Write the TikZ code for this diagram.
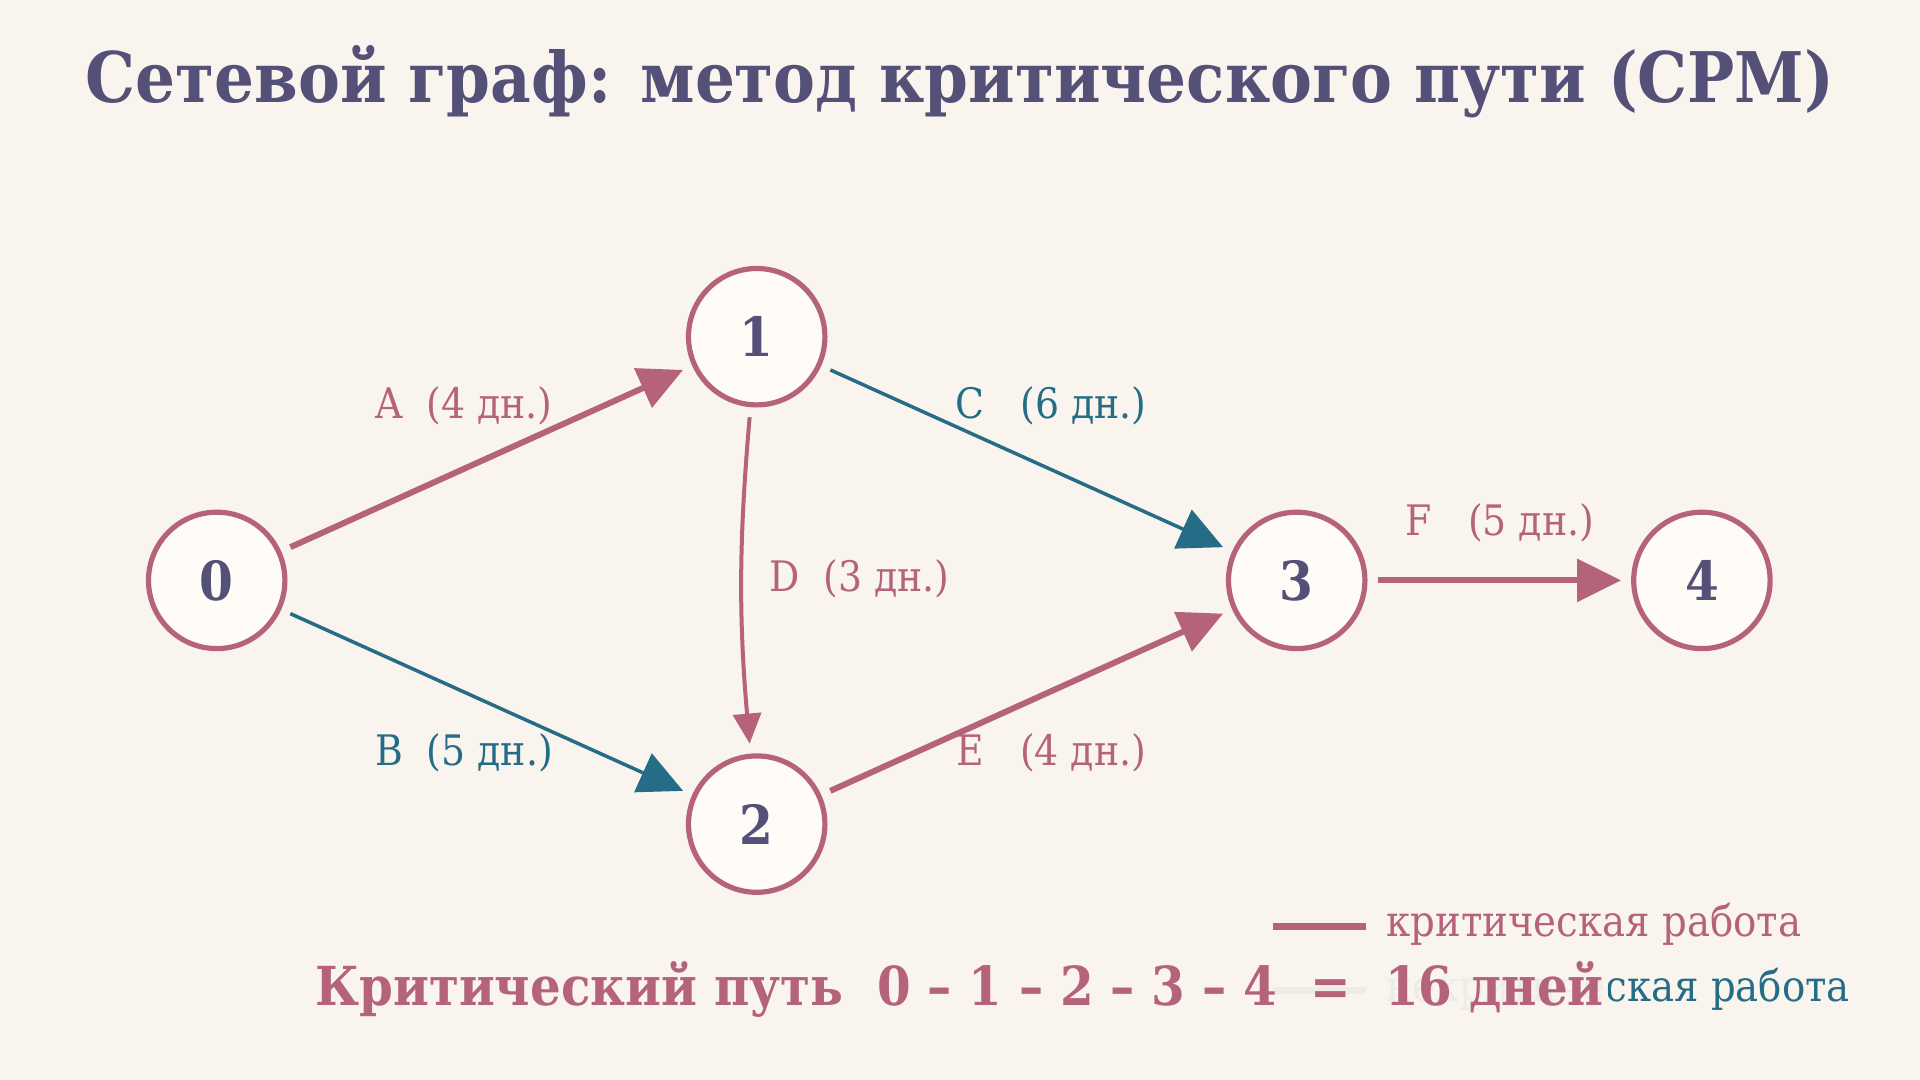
\documentclass[tikz,border=0pt]{standalone}
\usepackage{fontspec}
\setmainfont{DejaVu Serif Condensed}
\definecolor{bgColor}{HTML}{FAF4EE}
\definecolor{eventFillColor}{HTML}{FFFBF7}
\definecolor{criticalColor}{HTML}{B5637A}
\definecolor{normalColor}{HTML}{256C86}
\definecolor{titleColor}{HTML}{545078}
\usetikzlibrary{arrows.meta, positioning}
\tikzset{
    node distance = 121.85pt and 270pt,
    eventNode/.style = {circle, draw=criticalColor, line width=2.6pt, fill=eventFillColor, minimum size=68.2pt, inner sep=0pt, text=titleColor, font=\fontsize{27}{32}\selectfont\bfseries},
    labelNode/.style = {anchor=base, font=\fontsize{21}{25}\selectfont},
    criticalLabel/.style = {labelNode, text=criticalColor},
    normalLabel/.style = {labelNode, text=normalColor},
    legendText/.style = {anchor=base west, inner xsep=0pt, font=\fontsize{21.5}{26}\selectfont},
    legendLine/.style = {line width=3.5pt},
    defaultPath/.style = {draw, shorten <=5pt, shorten >=5pt},
    criticalPath/.style = {defaultPath, color=criticalColor, line width=3pt, -{Triangle[length=22pt, width=21pt]}},
    normalPath/.style = {defaultPath, color=normalColor, line width=1.75pt, -{Triangle[length=22pt, width=21pt]}},
    slimPath/.style = {defaultPath, color=criticalColor, line width=2pt, -{Triangle[length=15pt, width=14pt]}}
}
\begin{document}
\begin{tikzpicture}[x=0.5pt, y=-0.5pt, on grid]
            \fill[bgColor] (0,0) rectangle (1920,1080);
            \useasboundingbox (0,0) rectangle (1920,1080);
            % title
            \node(title)[anchor=base, text=titleColor, font=\fontsize{34.9}{42}\selectfont\bfseries] at (960,102.7) {Сетевой граф: метод критического пути (CPM)};
            % events
            \coordinate(start) at (216.7,580.4);
            \node(n0)[eventNode] at (start) {0};
            \node(n1)[eventNode, above right=of n0]{1};
            \node(n2)[eventNode, below right=of n0]{2};
            \node(n3)[eventNode, below right=of n1]{3};
            \node(n4)[eventNode, right=202.6pt of n3]{4};
            % works
            \path[criticalPath] (n0) to (n1);
            \path[normalPath] (n0) to (n2);
            \path[normalPath] (n1) to (n3);
            \path[slimPath] (n1) to[bend right=5] (n2);
            \path[criticalPath] (n2) to (n3);
            \path[criticalPath] (n3) to (n4);
            % labels
            \node(labelA)[criticalLabel] at (464,418.8) {A~~(4 дн.)};
            \node(labelB)[normalLabel] at (464,765.3) {B~~(5 дн.)};
            \node(labelC)[normalLabel] at (1051.3,418.8) {C~~~(6 дн.)};
            \node(labelD)[criticalLabel] at (859.5,591.7) {D~~(3 дн.)};
            \node(labelE)[criticalLabel] at (1051.3,765.3) {E~~~(4 дн.)};
            \node(labelF)[criticalLabel] at (1500,535) {F~~~(5 дн.)};
            % legend
            \coordinate(legendCritical) at (1273,926.5);
            \coordinate[right=46.5pt of legendCritical](legendCriticalEnd);
            \coordinate(legendNormal) at (1273,990);
            \coordinate[right=46.5pt of legendNormal](legendNormalEnd);
            \draw[legendLine, criticalColor] (legendCritical) -- (legendCriticalEnd);
            \draw[legendLine, normalColor] (legendNormal) -- (legendNormalEnd);
            \node(legendCriticalText)[legendText, text=criticalColor] at (1386,936.7) {критическая работа};
            \node(legendNormalText)[legendText, text=normalColor] at (1386,1001.7) {некритическая работа};
            % result
            \node(result)[anchor=base, fill=bgColor, fill opacity=0.94, text opacity=1, inner xsep=2pt, inner ysep=1pt, text=criticalColor, font=\fontsize{26.9}{32}\selectfont\bfseries] at (959.5,1005.7) {Критический путь~~0 – 1 – 2 – 3 – 4~~=~~16 дней};
        \end{tikzpicture}
\end{document}
